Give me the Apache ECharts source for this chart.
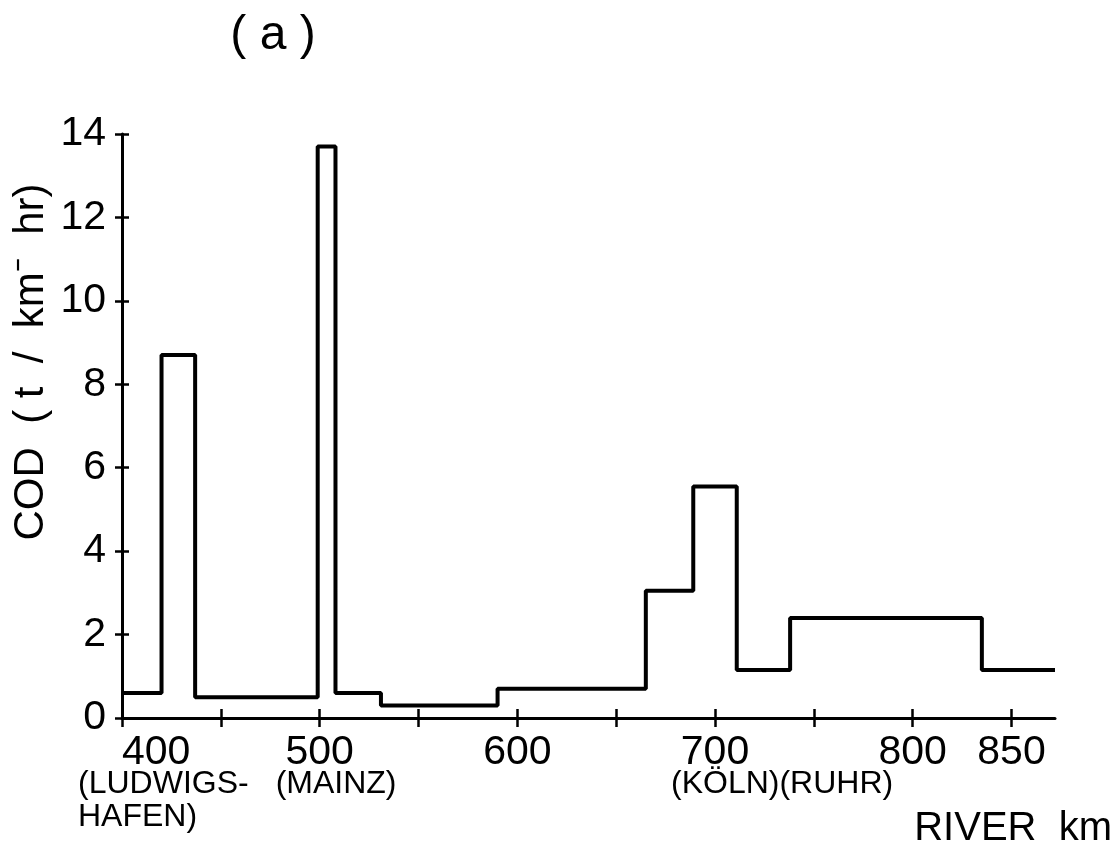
<!DOCTYPE html>
<html>
<head>
<meta charset="utf-8">
<script src="https://cdn.jsdelivr.net/npm/echarts@6/dist/echarts.min.js"></script>
<style>
  html, body { margin: 0; padding: 0; background: #fff; }
  #chart { width: 1119px; height: 857px; }
</style>
</head>
<body>
<div id="chart"></div>
<script>
// river km where each step starts, and the COD level held until the next step
const segStartKm = [400, 420, 437, 499, 508, 531, 590, 665, 689, 711, 738, 835];
const codLevel = [0.6, 8.7, 0.5, 13.7, 0.6, 0.3, 0.7, 3.05, 5.55, 1.15, 2.4, 1.15];
const endKm = 872;

const xLabelKm = [400, 500, 600, 700, 800, 850];
const xTickKm = [400, 450, 500, 550, 600, 650, 700, 750, 800, 850];

// places written under the km axis
const placeKm = [400, 500, 700];
const placeNames = ['(LUDWIGS-\nHAFEN)', '(MAINZ)', '(KÖLN)(RUHR)'];

const FONT = 'Liberation Sans';

const stepData = segStartKm.map((km, i) => [km, codLevel[i]]);
stepData.push([endKm, codLevel[codLevel.length - 1]]);

const chart = echarts.init(document.getElementById('chart'));

const baseX = {
	type: 'value',
	min: 400,
	max: endKm,
	position: 'bottom',
	splitLine: { show: false },
};

const option = {
	backgroundColor: '#fff',
	animation: false,
	grid: { left: 122, right: 64, top: 134, bottom: 139 },
	xAxis: [
		Object.assign({}, baseX, {
			axisLine: { lineStyle: { color: '#000', width: 3 } },
			axisTick: {
				customValues: xTickKm,
				length: 9,
				lineStyle: { color: '#000', width: 2.5 },
			},
			axisLabel: {
				customValues: xLabelKm,
				margin: 14,
				alignMinLabel: 'left',
				color: '#000',
				fontFamily: FONT,
				fontSize: 41,
			},
		}),
		// inner half of the cross ticks
		Object.assign({}, baseX, {
			axisLine: { show: false },
			axisTick: {
				inside: true,
				customValues: xTickKm,
				length: 9,
				lineStyle: { color: '#000', width: 2.5 },
			},
			axisLabel: { show: false },
		}),
	],
	yAxis: [
		{
			type: 'value',
			min: 0,
			max: 14,
			interval: 2,
			splitLine: { show: false },
			axisLine: { show: true, lineStyle: { color: '#000', width: 3 } },
			axisTick: { length: 7, lineStyle: { color: '#000', width: 2.5 } },
			axisLabel: {
				margin: 16,
				color: '#000',
				fontFamily: FONT,
				fontSize: 41,
			},
		},
		{
			type: 'value',
			min: 0,
			max: 14,
			interval: 2,
			position: 'left',
			splitLine: { show: false },
			axisLine: { show: false },
			axisTick: { show: true, inside: true, length: 7, lineStyle: { color: '#000', width: 2.5 } },
			axisLabel: { show: false },
		},
	],
	series: [
		{
			type: 'line',
			step: 'end',
			xAxisIndex: 0,
			yAxisIndex: 0,
			data: stepData,
			showSymbol: false,
			lineStyle: { color: '#000', width: 4 },
		},
	],
};

chart.setOption(option);

// texts around the plot: title, y name, x name and places
const graphics = [
	{
		type: 'text',
		x: 273,
		y: 36,
		style: {
			text: '( a )',
			font: `48px "${FONT}"`,
			fill: '#000',
			textAlign: 'center',
			textVerticalAlign: 'middle',
		},
	},
	{
		type: 'text',
		x: 31,
		y: 362,
		rotation: Math.PI / 2,
		style: {
			text: 'COD  ( t  /  km⁻  hr)',
			font: `42px "${FONT}"`,
			fill: '#000',
			textAlign: 'center',
			textVerticalAlign: 'middle',
		},
	},
	{
		type: 'text',
		x: 1112,
		y: 829,
		style: {
			text: 'RIVER  km',
			font: `40px "${FONT}"`,
			fill: '#000',
			textAlign: 'right',
			textVerticalAlign: 'middle',
		},
	},
];

placeKm.forEach((km, i) => {
	const px = chart.convertToPixel({ xAxisIndex: 0 }, km);
	graphics.push({
		type: 'text',
		x: px - 44,
		y: 768,
		style: {
			text: placeNames[i],
			font: `32px "${FONT}"`,
			lineHeight: 33,
			fill: '#000',
			textAlign: 'left',
			textVerticalAlign: 'top',
		},
	});
});

chart.setOption({ graphic: graphics });
</script>
</body>
</html>
